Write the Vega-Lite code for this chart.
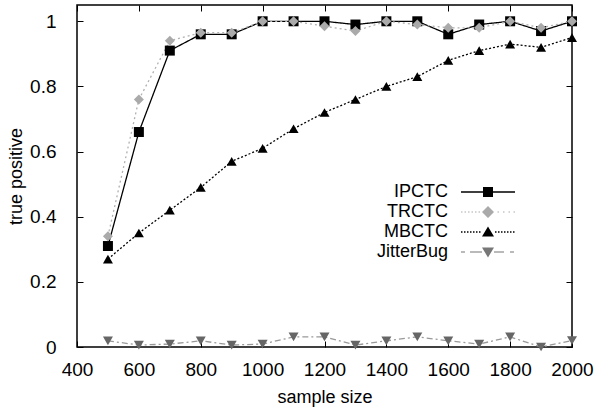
{
  "$schema": "https://vega.github.io/schema/vega-lite/v6.json",
  "width": 495,
  "height": 342,
  "autosize": {"type": "none"},
  "padding": {"left": 77, "top": 5, "right": 27, "bottom": 69},
  "background": "white",
  "config": {
    "view": {"stroke": "black", "strokeWidth": 1.5},
    "font": "Liberation Sans",
    "axis": {
      "domain": false, "grid": false, "labelFlush": false,
      "labelFont": "Liberation Sans", "labelFontSize": 19, "labelColor": "black",
      "titleFont": "Liberation Sans", "titleFontSize": 18, "titleFontWeight": "normal", "titleColor": "black",
      "tickColor": "black", "tickSize": -6, "tickWidth": 1
    },
    "legend": {"orient": "none", "legendX": 376, "legendY": 178, "title": null, "labelFontSize": 18, "labelFont": "Liberation Sans", "labelColor": "black",
               "labelAlign": "right", "labelOffset": -49, "symbolOffset": 26,
               "rowPadding": 2, "symbolSize": 100, "symbolOpacity": 1, "symbolStrokeWidth": 0}
  },
  "data": {"values": [
    {"x": 500, "s": "IPCTC", "y": 0.31}, {"x": 600, "s": "IPCTC", "y": 0.66}, {"x": 700, "s": "IPCTC", "y": 0.91}, {"x": 800, "s": "IPCTC", "y": 0.96},
    {"x": 900, "s": "IPCTC", "y": 0.96}, {"x": 1000, "s": "IPCTC", "y": 1.0}, {"x": 1100, "s": "IPCTC", "y": 1.0}, {"x": 1200, "s": "IPCTC", "y": 1.0},
    {"x": 1300, "s": "IPCTC", "y": 0.99}, {"x": 1400, "s": "IPCTC", "y": 1.0}, {"x": 1500, "s": "IPCTC", "y": 1.0}, {"x": 1600, "s": "IPCTC", "y": 0.96},
    {"x": 1700, "s": "IPCTC", "y": 0.99}, {"x": 1800, "s": "IPCTC", "y": 1.0}, {"x": 1900, "s": "IPCTC", "y": 0.97}, {"x": 2000, "s": "IPCTC", "y": 1.0},
    {"x": 500, "s": "TRCTC", "y": 0.34}, {"x": 600, "s": "TRCTC", "y": 0.76}, {"x": 700, "s": "TRCTC", "y": 0.94}, {"x": 800, "s": "TRCTC", "y": 0.965},
    {"x": 900, "s": "TRCTC", "y": 0.965}, {"x": 1000, "s": "TRCTC", "y": 1.0}, {"x": 1100, "s": "TRCTC", "y": 1.0}, {"x": 1200, "s": "TRCTC", "y": 0.985},
    {"x": 1300, "s": "TRCTC", "y": 0.97}, {"x": 1400, "s": "TRCTC", "y": 1.0}, {"x": 1500, "s": "TRCTC", "y": 0.99}, {"x": 1600, "s": "TRCTC", "y": 0.98},
    {"x": 1700, "s": "TRCTC", "y": 0.98}, {"x": 1800, "s": "TRCTC", "y": 1.0}, {"x": 1900, "s": "TRCTC", "y": 0.98}, {"x": 2000, "s": "TRCTC", "y": 1.0},
    {"x": 500, "s": "MBCTC", "y": 0.27}, {"x": 600, "s": "MBCTC", "y": 0.35}, {"x": 700, "s": "MBCTC", "y": 0.42}, {"x": 800, "s": "MBCTC", "y": 0.49},
    {"x": 900, "s": "MBCTC", "y": 0.57}, {"x": 1000, "s": "MBCTC", "y": 0.61}, {"x": 1100, "s": "MBCTC", "y": 0.67}, {"x": 1200, "s": "MBCTC", "y": 0.72},
    {"x": 1300, "s": "MBCTC", "y": 0.76}, {"x": 1400, "s": "MBCTC", "y": 0.80}, {"x": 1500, "s": "MBCTC", "y": 0.83}, {"x": 1600, "s": "MBCTC", "y": 0.88},
    {"x": 1700, "s": "MBCTC", "y": 0.91}, {"x": 1800, "s": "MBCTC", "y": 0.93}, {"x": 1900, "s": "MBCTC", "y": 0.92}, {"x": 2000, "s": "MBCTC", "y": 0.95},
    {"x": 500, "s": "JitterBug", "y": 0.019}, {"x": 600, "s": "JitterBug", "y": 0.006}, {"x": 700, "s": "JitterBug", "y": 0.009}, {"x": 800, "s": "JitterBug", "y": 0.019},
    {"x": 900, "s": "JitterBug", "y": 0.006}, {"x": 1000, "s": "JitterBug", "y": 0.009}, {"x": 1100, "s": "JitterBug", "y": 0.031}, {"x": 1200, "s": "JitterBug", "y": 0.031},
    {"x": 1300, "s": "JitterBug", "y": 0.006}, {"x": 1400, "s": "JitterBug", "y": 0.019}, {"x": 1500, "s": "JitterBug", "y": 0.031}, {"x": 1600, "s": "JitterBug", "y": 0.019},
    {"x": 1700, "s": "JitterBug", "y": 0.009}, {"x": 1800, "s": "JitterBug", "y": 0.031}, {"x": 1900, "s": "JitterBug", "y": 0.0}, {"x": 2000, "s": "JitterBug", "y": 0.02}
  ]},
  "layer": [
    {
      "mark": {"type": "line", "strokeWidth": 1.3},
      "encoding": {
        "x": {"field": "x", "type": "quantitative", "scale": {"domain": [400, 2000], "nice": false},
              "axis": {"orient": "bottom", "values": [400, 600, 800, 1000, 1200, 1400, 1600, 1800, 2000], "title": "sample size", "labelPadding": 19, "titlePadding": 9, "format": "d"}},
        "y": {"field": "y", "type": "quantitative", "scale": {"domain": [0, 1.05], "nice": false, "zero": false},
              "axis": {"orient": "left", "values": [0, 0.2, 0.4, 0.6, 0.8, 1], "title": "true positive", "labelPadding": 27, "titlePadding": 4, "format": "~g"}},
        "stroke": {"field": "s", "type": "nominal", "legend": null,
                   "scale": {"domain": ["IPCTC", "TRCTC", "MBCTC", "JitterBug"], "range": ["#000000", "#b0b0b0", "#000000", "#999999"]}},
        "strokeDash": {"field": "s", "type": "nominal", "legend": null,
                   "scale": {"domain": ["IPCTC", "TRCTC", "MBCTC", "JitterBug"], "range": [[1, 0], [2, 3], [2, 2], [6, 3, 2, 3]]}}
      }
    },
    {
      "mark": {"type": "point", "filled": true, "size": 100, "opacity": 1},
      "encoding": {
        "x": {"field": "x", "type": "quantitative", "axis": null},
        "y": {"field": "y", "type": "quantitative", "axis": null},
        "color": {"field": "s", "type": "nominal", "legend": null,
                  "scale": {"domain": ["IPCTC", "TRCTC", "MBCTC", "JitterBug"], "range": ["#000000", "#aaaaaa", "#000000", "#666666"]}},
        "shape": {"field": "s", "type": "nominal", "legend": null,
                  "scale": {"domain": ["IPCTC", "TRCTC", "MBCTC", "JitterBug"], "range": ["square", "diamond", "triangle-up", "triangle-down"]}}
      }
    },
    {
      "mark": {"type": "point", "filled": true, "size": 100, "opacity": 0,
               "color": {"expr": "(datum.value || datum.s) === 'TRCTC' ? '#aaaaaa' : (datum.value || datum.s) === 'JitterBug' ? '#777777' : '#000000'"}},
      "encoding": {
        "x": {"field": "x", "type": "quantitative", "scale": {"domain": [400, 2000], "nice": false},
              "axis": {"orient": "top", "labels": false, "title": null, "values": [400, 600, 800, 1000, 1200, 1400, 1600, 1800, 2000]}},
        "y": {"field": "y", "type": "quantitative", "scale": {"domain": [0, 1.05], "nice": false, "zero": false},
              "axis": {"orient": "right", "labels": false, "title": null, "values": [0, 0.2, 0.4, 0.6, 0.8, 1]}},
        "shape": {"field": "s", "type": "nominal",
                  "legend": {"orient": "none", "legendX": 376, "legendY": 178, "labelAlign": "right", "labelOffset": -49, "symbolOffset": 26},
                  "scale": {"domain": ["IPCTC", "TRCTC", "MBCTC", "JitterBug"], "range": [
                    "M-5.4,-0.13H5.4V0.13H-5.4Z M-1,-1H1V1H-1Z",
                    "M-5.4,-0.12h0.3v0.24h-0.3Z M-4.7,-0.12h0.3v0.24h-0.3Z M-4,-0.12h0.3v0.24h-0.3Z M-3.3,-0.12h0.3v0.24h-0.3Z M-2.6,-0.12h0.3v0.24h-0.3Z M-1.9,-0.12h0.3v0.24h-0.3Z M1.9,-0.12h0.3v0.24h-0.3Z M3,-0.12h0.3v0.24h-0.3Z M4.1,-0.12h0.3v0.24h-0.3Z M5.1,-0.12h0.3v0.24h-0.3Z M0,-1.2L1.2,0L0,1.2L-1.2,0Z",
                    "M-5.4,-0.13h0.3v0.26h-0.3Z M-4.8,-0.13h0.3v0.26h-0.3Z M-4.2,-0.13h0.3v0.26h-0.3Z M-3.6,-0.13h0.3v0.26h-0.3Z M-3,-0.13h0.3v0.26h-0.3Z M-2.4,-0.13h0.3v0.26h-0.3Z M-1.8,-0.13h0.3v0.26h-0.3Z M1.4,-0.13h0.3v0.26h-0.3Z M2,-0.13h0.3v0.26h-0.3Z M2.6,-0.13h0.3v0.26h-0.3Z M3.2,-0.13h0.3v0.26h-0.3Z M3.8,-0.13h0.3v0.26h-0.3Z M4.4,-0.13h0.3v0.26h-0.3Z M5,-0.13h0.3v0.26h-0.3Z M0,-1.1L1.2,0.9H-1.2Z",
                    "M-5.4,-0.12h0.8v0.24h-0.8Z M-3.6,-0.12h2.4v0.24h-2.4Z M1.2,-0.12h2v0.24h-2Z M4.4,-0.12h0.8v0.24h-0.8Z M-1.2,-0.9H1.2L0,1.1Z"
                  ]}}
      }
    }
  ],
  "resolve": {"axis": {"x": "independent", "y": "independent"}, "scale": {"shape": "independent"}}
}
